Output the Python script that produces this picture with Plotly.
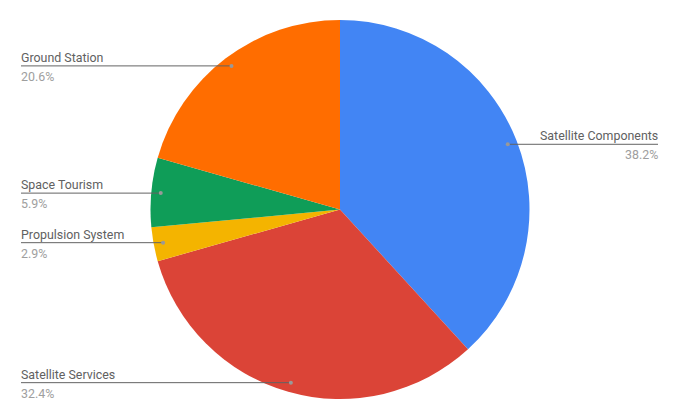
import math
import plotly.graph_objects as go

# slices clockwise from 12 o'clock
labels = ["Satellite Components", "Satellite Services", "Propulsion System", "Space Tourism", "Ground Station"]
shares = [38.2, 32.4, 2.9, 5.9, 20.6]
colors = ["#4285f4", "#db4437", "#f4b400", "#0f9d58", "#ff6d00"]

W, H = 679, 420
cx, cy, r = 340, 209.5, 189.5
dot_r = 180
left_x, right_x = 21, 658

fig = go.Figure()
fig.add_trace(go.Pie(
    labels=labels,
    values=shares,
    marker=dict(colors=colors, line=dict(width=0)),
    sort=False,
    direction="clockwise",
    rotation=0,
    textinfo="none",
    hoverinfo="label+percent",
    showlegend=False,
    domain=dict(x=[(cx - r) / W, (cx + r) / W], y=[(H - cy - r) / H, (H - cy + r) / H]),
))

total = sum(shares)
cum = 0
shapes = []
annotations = []
for lab, v in zip(labels, shares):
    mid = (cum + v / 2) / total * 2 * math.pi
    cum += v
    px = cx + dot_r * math.sin(mid)
    py = cy - dot_r * math.cos(mid)
    if px >= cx:
        x0, x1, tx, anchor, shift = px, right_x, right_x, "right", 2
    else:
        x0, x1, tx, anchor, shift = left_x, px, left_x, "left", -2
    yp = 1 - py / H
    shapes.append(dict(type="line", xref="paper", yref="paper",
                       x0=x0 / W, x1=x1 / W, y0=yp, y1=yp,
                       line=dict(color="#636363", width=1)))
    shapes.append(dict(type="circle", xref="paper", yref="paper",
                       x0=(px - 2) / W, x1=(px + 2) / W, y0=yp - 2 / H, y1=yp + 2 / H,
                       fillcolor="#999999", line=dict(width=0)))
    annotations.append(dict(x=tx / W, y=yp, xref="paper", yref="paper",
                            text=lab, showarrow=False, xanchor=anchor, yanchor="bottom",
                            xshift=shift, yshift=-1,
                            font=dict(family="Roboto", size=12.4, color="#616161")))
    annotations.append(dict(x=tx / W, y=yp, xref="paper", yref="paper",
                            text="%.1f%%" % v, showarrow=False, xanchor=anchor, yanchor="top",
                            xshift=shift, yshift=-1,
                            font=dict(family="Roboto", size=12.4, color="#9e9e9e")))

fig.update_layout(
    width=W, height=H,
    margin=dict(l=0, r=0, t=0, b=0),
    paper_bgcolor="white",
    shapes=shapes,
    annotations=annotations,
)

# drop the browser's default 8px body margin so the figure sits at the page corner
fig.write_html("out.html", config={"displayModeBar": False},
               post_script="document.body.style.margin='0';")
